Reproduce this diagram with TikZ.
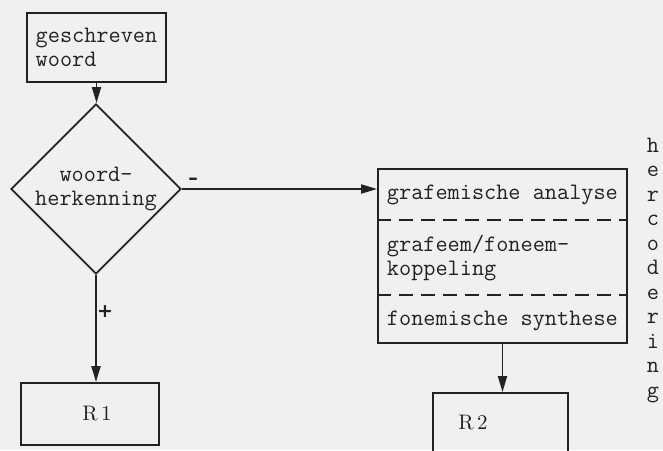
\documentclass[tikz,border=0pt]{standalone}
\usepackage{fontspec}
\usepackage{tikz}
\usetikzlibrary{arrows.meta,positioning,shapes.geometric}
\definecolor{paper}{HTML}{F0F0EE}
\definecolor{ink}{HTML}{222222}
\newfontfamily\signfont{DejaVu Sans}
\newcommand{\tw}{\ttfamily\fontsize{11.8}{12}\selectfont}

\begin{document}
\begin{tikzpicture}[x=0.5pt, y=-0.5pt, line width=0.95pt, color=ink,
  every node/.style={inner sep=0pt},
  box/.style={draw, rectangle},
  tt/.style={font=\tw},
  flow/.style={-{Triangle[length=8pt,width=4.5pt]}},
  sep/.style={dash pattern=on 7pt off 4pt},
  sign/.style={font=\signfont\bfseries\fontsize{9.5}{10}\selectfont},
  rlab/.style={font=\fontsize{10.5}{11}\selectfont}]
\useasboundingbox (0,0) rectangle (663,450);
\fill[paper] (0,0) rectangle (663,450);
\clip (0,0) rectangle (663,450);
% input and decision
\node[box, tt, align=left, minimum width=69.5pt, minimum height=34.5pt] (woord) at (96.5,47.5) {geschreven\\woord};
\node[draw, diamond, tt, align=center, minimum width=85pt, minimum height=85pt] (herk) at (96,189) {woord-\\herkenning};
% recoding box with three stages
\node[box, minimum width=124.5pt, minimum height=87pt] (proc) at (502.5,256) {};
\node[tt, anchor=west] (ana) at (386,195) {grafemische analyse};
\node[tt, anchor=west, align=left] (kop) at (386,258) {grafeem/foneem-\\koppeling};
\node[tt, anchor=west] (syn) at (386,321) {fonemische synthese};
\coordinate (s1) at (0,220);
\coordinate (s2) at (0,295);
\draw[sep] (proc.west |- s1) -- (proc.east |- s1);
\draw[sep] (proc.west |- s2) -- (proc.east |- s2);
% results
\node[box, rlab, minimum width=69pt, minimum height=31pt] (r1) at (90,414) {\hspace{7pt}R\,1};
\node[box, minimum width=67.5pt, minimum height=45pt] (r2) at (500.5,438) {};
\node[rlab] (r2lab) at (473,423) {R\,2};
% connectors
\draw[flow] (woord.south) -- (woord.south |- herk.north);
\draw[flow] (herk.east) -- (herk.east -| proc.west);
\node[sign] (minus) at (193,181) {–};
\draw[flow] (herk.south) -- (herk.south |- r1.north);
\node[sign] (plus) at (105,312) {+};
\draw[flow] (proc.south) -- (proc.south |- r2.north);
% vertical side label
\foreach \c [count=\i from 0] in {h,e,r,c,o,d,e,r,i,n,g}{
  \node[tt, anchor=base] (v\i) at (653,{152+24.5*\i}) {\c};
}
\end{tikzpicture}
\end{document}
